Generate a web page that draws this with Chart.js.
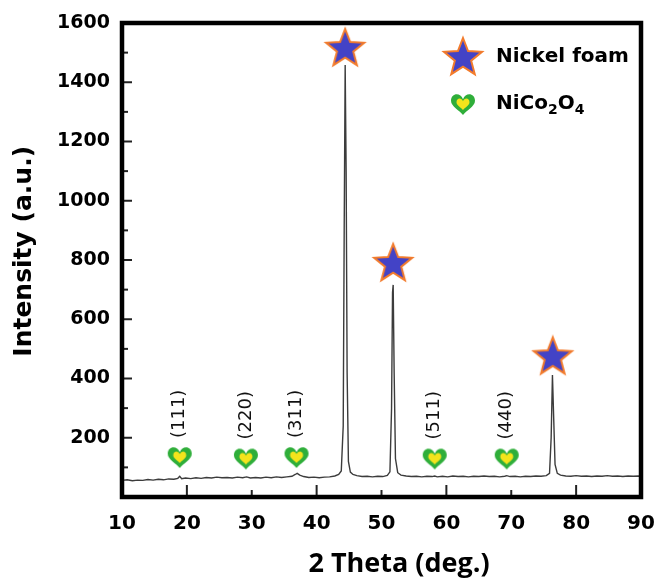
<!DOCTYPE html>
<html>
<head>
<meta charset="utf-8">
<script src="https://cdn.jsdelivr.net/npm/chart.js@4.4.1/dist/chart.umd.min.js"></script>
<style>
  html, body { margin: 0; padding: 0; background: #fff; overflow: hidden; }
</style>
</head>
<body>
<canvas id="xrd" width="658" height="581"></canvas>
<script>
// XRD pattern
const twoTheta = [
  10.0, 10.8, 11.6, 12.4, 13.2, 14.0, 14.8, 15.6, 16.4, 17.2, 18.0, 18.6, 18.9, 19.2, 19.8,
  20.6, 21.4, 22.2, 23.0, 23.8, 24.6, 25.4, 26.2, 27.0, 27.8, 28.6, 29.2, 29.8, 30.6, 31.4,
  32.2, 33.0, 33.8, 34.6, 35.4, 36.2, 36.7, 37.0, 37.4, 38.0, 38.8, 39.6, 40.4, 41.2, 42.0,
  42.8, 43.4, 43.8, 44.1, 44.25, 44.4, 44.55, 44.7, 44.9, 45.2, 45.6, 46.2, 47.0, 47.8, 48.6,
  49.4, 50.2, 50.9, 51.3, 51.55, 51.7, 51.8, 51.95, 52.15, 52.5, 53.0, 53.8, 54.6, 55.4, 56.2,
  57.0, 57.8, 58.2, 58.6, 59.4, 60.2, 61.0, 61.8, 62.6, 63.4, 64.2, 65.0, 65.8, 66.6, 67.4,
  68.2, 69.0, 69.3, 69.8, 70.6, 71.4, 72.2, 73.0, 73.8, 74.6, 75.4, 75.9, 76.15, 76.35, 76.55,
  76.75, 77.1, 77.6, 78.4, 79.2, 80.0, 80.8, 81.6, 82.4, 83.2, 84.0, 84.8, 85.6, 86.4, 87.2,
  88.0, 88.8, 89.6, 90.0
];
const intensity = [
  56, 58, 55, 57, 56, 59, 57, 60, 58, 61, 60, 63, 70, 62, 64,
  62, 65, 63, 66, 64, 67, 65, 66, 64, 67, 65, 68, 64, 66, 64,
  67, 65, 68, 66, 68, 70, 76, 80, 74, 69, 66, 67, 65, 67, 68,
  71, 76, 88, 240, 900, 1458, 1100, 420, 120, 84, 76, 72, 69, 70, 68,
  70, 69, 73, 85, 300, 690, 716, 420, 130, 82, 74, 71, 69, 70, 68,
  70, 69, 71, 68, 70, 68, 71, 69, 70, 68, 70, 69, 71, 69, 70,
  68, 70, 72, 69, 70, 68, 70, 69, 71, 70, 72, 80, 200, 412, 260,
  110, 80, 74, 71, 70, 72, 70, 71, 69, 71, 70, 72, 70, 71, 69,
  71, 70, 71, 70
];

// Nickel foam peaks (stars)
const starTheta = [44.4, 51.8, 76.4];
const starIntensity = [1516, 790, 475];

// NiCo2O4 reflections (hearts)
const heartTheta = [18.9, 29.1, 36.9, 58.2, 69.3];
const heartIntensity = [135, 130, 135, 130, 130];
const millerIndex = ['(111)', '(220)', '(311)', '(511)', '(440)'];

const seriesLabels = ['Nickel foam', 'NiCo2O4'];

// marker images
function makeStar() {
  const c = document.createElement('canvas');
  c.width = 46; c.height = 44;
  const g = c.getContext('2d');
  const cx = 23, cy = 23, R = 20, r = 8.6;
  g.beginPath();
  for (let i = 0; i < 10; i++) {
    const a = -Math.PI / 2 + i * Math.PI / 5;
    const rad = i % 2 === 0 ? R : r;
    const px = cx + rad * Math.cos(a), py = cy + rad * Math.sin(a);
    if (i === 0) g.moveTo(px, py); else g.lineTo(px, py);
  }
  g.closePath();
  g.fillStyle = '#4343c6';
  g.fill();
  g.lineWidth = 2;
  g.strokeStyle = '#f27b2c';
  g.lineJoin = 'miter';
  g.stroke();
  return c;
}

function heartPath(g, x, y, w, h) {
  g.beginPath();
  g.moveTo(x, y + h * 0.28);
  g.bezierCurveTo(x - w * 0.1, y - h * 0.05, x - w / 2, y - h * 0.02, x - w / 2, y + h * 0.35);
  g.bezierCurveTo(x - w / 2, y + h * 0.62, x - w * 0.12, y + h * 0.8, x, y + h);
  g.bezierCurveTo(x + w * 0.12, y + h * 0.8, x + w / 2, y + h * 0.62, x + w / 2, y + h * 0.35);
  g.bezierCurveTo(x + w / 2, y - h * 0.02, x + w * 0.1, y - h * 0.05, x, y + h * 0.28);
  g.closePath();
}

function makeHeart() {
  const c = document.createElement('canvas');
  c.width = 26; c.height = 24;
  const g = c.getContext('2d');
  heartPath(g, 13, 1, 24, 22);
  g.fillStyle = '#2fae3a';
  g.fill();
  heartPath(g, 13, 6, 13, 12);
  g.fillStyle = '#f4e41c';
  g.fill();
  return c;
}

const starImg = makeStar();
const heartImg = makeHeart();

function drawChem(ctx, text, x, y, size) {
  let cx = x;
  for (const ch of text) {
    if (/[0-9]/.test(ch)) {
      ctx.font = 'bold ' + Math.round(size * 0.72) + 'px "DejaVu Sans"';
      ctx.fillText(ch, cx, y + size * 0.32);
    } else {
      ctx.font = 'bold ' + size + 'px "DejaVu Sans"';
      ctx.fillText(ch, cx, y);
    }
    cx += ctx.measureText(ch).width;
  }
}

const decor = {
  id: 'decor',
  afterDatasetsDraw(chart) {
    const ctx = chart.ctx;
    const area = chart.chartArea;
    const xs = chart.scales.x, ys = chart.scales.y;
    ctx.save();

    // hkl labels above the hearts
    ctx.fillStyle = '#111';
    ctx.font = '18px "DejaVu Sans"';
    ctx.textAlign = 'left';
    ctx.textBaseline = 'middle';
    millerIndex.forEach((lab, i) => {
      const px = xs.getPixelForValue(heartTheta[i]);
      const py = ys.getPixelForValue(heartIntensity[i]);
      ctx.save();
      ctx.translate(px, py - 19);
      ctx.rotate(-Math.PI / 2);
      ctx.fillText(lab, 0, 0);
      ctx.restore();
    });

    // inward ticks
    ctx.strokeStyle = '#222';
    ctx.lineWidth = 2;
    ys.ticks.forEach(t => {
      if (t.value <= ys.min || t.value >= ys.max) return;
      const py = ys.getPixelForValue(t.value);
      const len = t.value % 200 === 0 ? 8 : 4;
      ctx.beginPath();
      ctx.moveTo(area.left, py);
      ctx.lineTo(area.left + 2 + len, py);
      ctx.stroke();
    });
    xs.ticks.forEach(t => {
      if (t.value <= xs.min || t.value >= xs.max) return;
      const px = xs.getPixelForValue(t.value);
      const len = t.value % 20 === 0 ? 10 : 5;
      ctx.beginPath();
      ctx.moveTo(px, area.bottom);
      ctx.lineTo(px, area.bottom - 2 - len);
      ctx.stroke();
    });

    // frame
    ctx.strokeStyle = '#000';
    ctx.lineWidth = 4.5;
    ctx.strokeRect(area.left, area.top, area.right - area.left, area.bottom - area.top);

    // legend in the upper right corner
    const imgs = [starImg, heartImg];
    const rows = [area.top + 34, area.top + 81];
    ctx.fillStyle = '#000';
    ctx.textBaseline = 'middle';
    ctx.textAlign = 'left';
    seriesLabels.forEach((lab, i) => {
      const im = imgs[i];
      const mx = area.right - 178;
      ctx.drawImage(im, mx - im.width / 2, rows[i] - im.height / 2);
      drawChem(ctx, lab, area.right - 145, rows[i], 20);
    });
    ctx.restore();
  }
};

new Chart(document.getElementById('xrd'), {
  type: 'line',
  data: {
    datasets: [
      {
        label: 'XRD',
        data: twoTheta.map((t, i) => ({ x: t, y: intensity[i] })),
        borderColor: '#3c3c3c',
        borderWidth: 1.4,
        pointRadius: 0,
        tension: 0
      },
      {
        label: seriesLabels[0],
        data: starTheta.map((t, i) => ({ x: t, y: starIntensity[i] })),
        showLine: false,
        pointStyle: starImg,
        pointRadius: 20
      },
      {
        label: seriesLabels[1],
        data: heartTheta.map((t, i) => ({ x: t, y: heartIntensity[i] })),
        showLine: false,
        pointStyle: heartImg,
        pointRadius: 12
      }
    ]
  },
  options: {
    responsive: false,
    animation: false,
    clip: false,
    layout: { autoPadding: false, padding: { top: 23, right: 17, left: 0, bottom: 0 } },
    plugins: {
      legend: { display: false },
      tooltip: { enabled: false }
    },
    scales: {
      x: {
        type: 'linear',
        min: 10,
        max: 90,
        afterFit: s => { s.height = 84; s.paddingLeft = 0; s.paddingRight = 0; },
        grid: { display: false, drawTicks: false },
        border: { display: false },
        ticks: {
          stepSize: 10,
          autoSkip: false,
          maxRotation: 0,
          padding: 15,
          color: '#000',
          font: { family: 'DejaVu Sans', weight: 'bold', size: 20 }
        },
        title: {
          display: true,
          text: '     2 Theta (deg.)',
          color: '#000',
          padding: { top: 0, bottom: 0 },
          font: { family: 'Open Sans', weight: 'bold', size: 27 }
        }
      },
      y: {
        min: 0,
        max: 1600,
        afterFit: s => { s.width = 122; s.paddingTop = 0; s.paddingBottom = 0; },
        grid: { display: false, drawTicks: false },
        border: { display: false },
        ticks: {
          stepSize: 100,
          padding: 12,
          color: '#000',
          font: { family: 'DejaVu Sans', weight: 'bold', size: 19 },
          callback: v => (v > 0 && v % 200 === 0) ? v : ''
        },
        title: {
          display: true,
          text: '  Intensity (a.u.)',
          color: '#000',
          padding: { top: 9, bottom: 0 },
          font: { family: 'DejaVu Sans', weight: 'bold', size: 25 }
        }
      }
    }
  },
  plugins: [decor]
});
</script>
</body>
</html>
